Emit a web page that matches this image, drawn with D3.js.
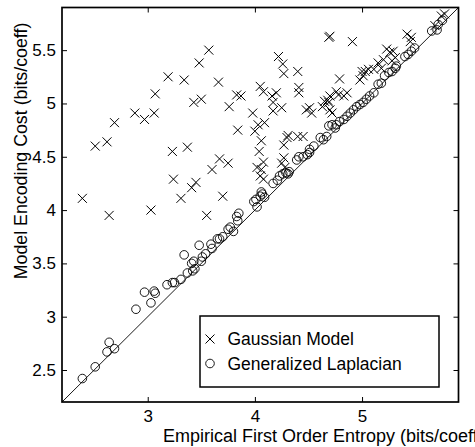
<!DOCTYPE html>
<html>
<head>
<meta charset="utf-8">
<script src="https://cdn.jsdelivr.net/npm/d3@7"></script>
<style>
  body { margin: 0; background: #fff; }
  svg { font-family: "Liberation Sans", Arial, sans-serif; }
</style>
</head>
<body>
<div id="chart"></div>
<script>
// gaussian model points (x = empirical entropy, y = model cost)
var gaussX = [2.39,2.51,2.62,2.69,2.64,2.88,2.97,3.06,3.07,3.19,3.34,3.48,3.57,3.66,3.43,3.50,3.76,3.83,3.87,3.84,
  3.23,3.37,3.24,3.31,3.41,3.45,3.60,3.67,3.75,3.70,3.03,3.55,4.05,4.08,4.16,4.20,4.17,4.25,4.17,4.22,
  4.26,4.27,4.40,4.41,4.41,3.98,4.09,4.03,4.00,4.06,4.04,4.08,4.02,4.06,4.05,4.08,4.31,4.30,4.27,4.40,
  4.45,4.48,4.51,4.53,4.65,4.68,4.69,4.63,4.70,4.76,4.27,4.25,4.28,4.69,4.70,4.91,4.79,4.86,4.83,4.78,
  4.70,4.72,5.00,5.03,5.01,5.06,4.98,5.15,5.18,5.11,5.23,5.26,5.29,5.31,5.28,5.20,5.42,5.45,5.46,5.68,
  5.74,5.77];
var gaussY = [4.11,4.60,4.64,4.82,3.95,4.91,4.85,4.91,5.09,5.25,5.22,5.38,5.50,5.20,5.01,5.04,4.97,5.08,5.07,4.75,
  4.55,4.59,4.29,4.11,4.21,4.26,4.38,4.48,4.44,4.13,4.00,3.95,5.16,5.11,5.07,5.10,5.01,4.96,4.93,5.44,
  5.37,5.28,5.30,5.15,5.10,4.91,4.82,4.80,4.74,4.65,4.55,4.45,4.40,4.38,4.32,4.29,4.70,4.68,4.61,4.69,
  4.69,4.94,4.96,4.91,5.02,5.03,5.01,4.97,4.94,5.11,4.49,4.44,4.40,5.62,5.63,5.58,5.23,5.10,5.07,5.08,
  5.07,4.91,5.30,5.30,5.26,5.32,5.22,5.38,5.33,5.32,5.51,5.48,5.49,5.43,5.40,5.41,5.65,5.58,5.62,5.73,
  5.82,5.84];

// generalized laplacian points
var laplX = [2.39,2.51,2.64,2.62,2.69,2.89,2.97,3.03,3.06,3.07,3.18,3.23,3.25,3.31,3.34,3.37,3.41,3.43,3.44,3.42,
  3.48,3.50,3.54,3.59,3.60,3.65,3.51,3.67,3.70,3.75,3.77,3.80,3.83,3.85,3.84,3.99,4.01,4.02,4.05,4.07,
  4.09,4.06,4.17,4.21,4.23,4.26,4.29,4.31,4.32,4.39,4.41,4.45,4.49,4.51,4.55,4.51,4.61,4.64,4.67,4.69,
  4.72,4.75,4.76,4.79,4.83,4.86,4.89,4.92,4.95,4.98,5.01,5.04,5.07,5.11,5.15,5.18,5.21,5.25,5.28,5.31,
  5.32,5.40,5.43,5.46,5.49,5.65,5.70,5.71,5.75];
var laplY = [2.42,2.53,2.76,2.67,2.70,3.07,3.23,3.13,3.24,3.22,3.30,3.32,3.32,3.35,3.58,3.41,3.50,3.52,3.45,3.43,
  3.67,3.52,3.59,3.68,3.64,3.73,3.56,3.73,3.75,3.82,3.84,3.80,3.94,3.97,3.90,4.08,4.10,4.03,4.13,4.15,
  4.12,4.17,4.25,4.28,4.32,4.34,4.35,4.34,4.36,4.47,4.50,4.50,4.52,4.54,4.60,4.57,4.68,4.66,4.69,4.79,
  4.80,4.77,4.80,4.83,4.85,4.88,4.91,4.94,4.97,4.99,5.01,5.04,5.07,5.10,5.18,5.19,5.26,5.29,5.30,5.33,
  5.35,5.44,5.46,5.49,5.52,5.68,5.69,5.74,5.78];

var domain = [2.2, 5.9];
var xTicks = [3, 4, 5];
var yTicks = [2.5, 3, 3.5, 4, 4.5, 5, 5.5];
var seriesNames = ["Gaussian Model", "Generalized Laplacian"];

var svgWidth = 475, svgHeight = 447;
var margin = {top: 7.5, right: 16.5, bottom: 45, left: 62};
var graphWidth = svgWidth - margin.left - margin.right;
var graphHeight = svgHeight - margin.top - margin.bottom;

var svg = d3.select("#chart").append("svg")
    .attr("width", svgWidth)
    .attr("height", svgHeight);
var g = svg.append("g")
    .attr("transform", "translate(" + margin.left + "," + margin.top + ")");

var x = d3.scaleLinear().domain(domain).range([0, graphWidth]);
var y = d3.scaleLinear().domain(domain).range([graphHeight, 0]);

// axes, ticks pointing inward on all four sides
var tickLen = 5;
g.append("g").attr("class", "axis")
    .attr("transform", "translate(0," + graphHeight + ")")
    .call(d3.axisBottom(x).tickValues(xTicks).tickSize(-tickLen).tickPadding(8).tickFormat(d3.format("")));
g.append("g").attr("class", "axis")
    .call(d3.axisTop(x).tickValues(xTicks).tickSize(-tickLen).tickFormat(""));
g.append("g").attr("class", "axis")
    .call(d3.axisLeft(y).tickValues(yTicks).tickSize(-tickLen).tickPadding(6).tickFormat(d3.format("")));
g.append("g").attr("class", "axis")
    .attr("transform", "translate(" + graphWidth + ",0)")
    .call(d3.axisRight(y).tickValues(yTicks).tickSize(-tickLen).tickFormat(""));

g.selectAll(".axis path").remove();
g.selectAll(".axis line").attr("stroke", "#000").attr("stroke-width", 1);
g.selectAll(".axis text").attr("fill", "#000").style("font-size", "17px");

g.append("rect")
    .attr("width", graphWidth)
    .attr("height", graphHeight)
    .attr("fill", "none")
    .attr("stroke", "#000")
    .attr("stroke-width", 1.7);

// y = x reference line
g.append("line")
    .attr("x1", x(domain[0])).attr("y1", y(domain[0]))
    .attr("x2", x(domain[1])).attr("y2", y(domain[1]))
    .attr("stroke", "#000").attr("stroke-width", 0.9);

var cs = 4.5;
function crossPath(cx, cy){
  return "M" + (cx - cs) + "," + (cy - cs) + "L" + (cx + cs) + "," + (cy + cs) +
         "M" + (cx - cs) + "," + (cy + cs) + "L" + (cx + cs) + "," + (cy - cs);
}

g.append("g").selectAll("circle")
    .data(laplX)
    .enter()
    .append("circle")
    .attr("cx", function(d){ return x(d); })
    .attr("cy", function(d, i){ return y(laplY[i]); })
    .attr("r", 4.3)
    .attr("fill", "none")
    .attr("stroke", "#000")
    .attr("stroke-width", 0.9);

g.append("g").selectAll("path")
    .data(gaussX)
    .enter()
    .append("path")
    .attr("d", function(d, i){ return crossPath(x(d), y(gaussY[i])); })
    .attr("fill", "none")
    .attr("stroke", "#000")
    .attr("stroke-width", 1);

// legend
var legend = svg.append("g").attr("transform", "translate(200,316)");
legend.append("rect")
    .attr("width", 239).attr("height", 71)
    .attr("fill", "#fff").attr("stroke", "#000").attr("stroke-width", 1.5);
legend.append("path")
    .attr("d", crossPath(10, 23))
    .attr("fill", "none").attr("stroke", "#000");
legend.append("circle")
    .attr("cx", 10).attr("cy", 47.5).attr("r", 4.3)
    .attr("fill", "none").attr("stroke", "#000").attr("stroke-width", 0.9);
legend.selectAll("text")
    .data(seriesNames)
    .enter()
    .append("text")
    .attr("x", 27.5)
    .attr("y", function(d, i){ return 23 + i * 24.5; })
    .attr("dy", "0.35em")
    .style("font-size", "17.5px")
    .text(function(d){ return d; });

// axis titles (the x title runs past the right edge, as in the original)
svg.append("text")
    .attr("x", 163).attr("y", 442)
    .style("font-size", "18px")
    .text("Empirical First Order Entropy (bits/coeff)");
svg.append("text")
    .attr("transform", "translate(27," + (margin.top + 143.5) + ") rotate(-90)")
    .attr("text-anchor", "middle")
    .style("font-size", "17.8px")
    .text("Model Encoding Cost (bits/coeff)");
</script>
</body>
</html>
